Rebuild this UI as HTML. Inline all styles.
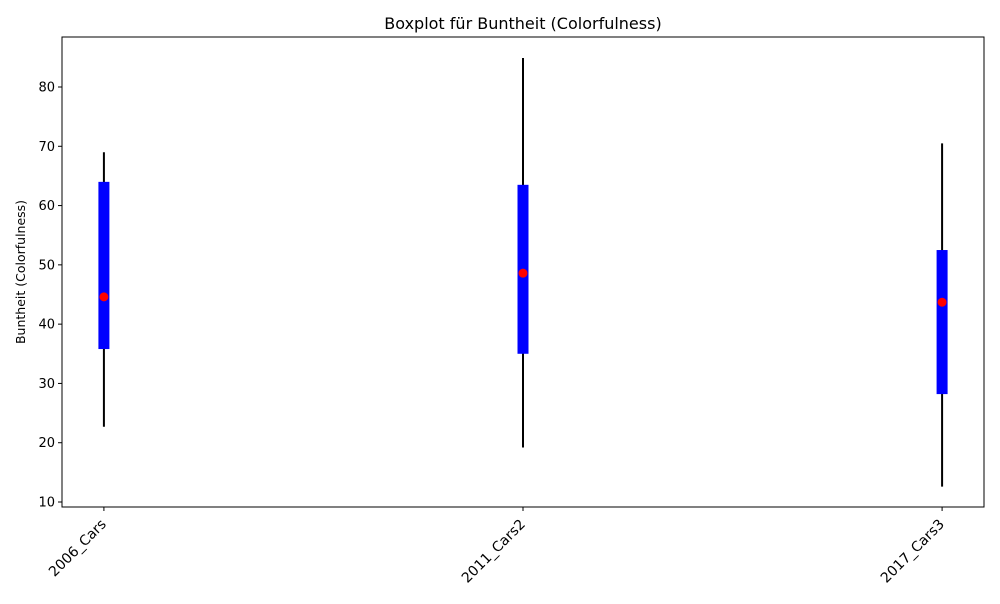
<!DOCTYPE html>
<html><head><meta charset="utf-8"><style>
body{margin:0;background:#fff;font-family:"DejaVu Sans","Liberation Sans",sans-serif}
svg text{font-family:"DejaVu Sans","Liberation Sans",sans-serif}
</style></head><body>
<svg id="chart" width="1000" height="600" xmlns="http://www.w3.org/2000/svg">
<rect width="1000" height="600" fill="#fff"/>
<text x="523" y="29" text-anchor="middle" font-size="16">Boxplot für Buntheit (Colorfulness)</text>
<text transform="translate(25,272) rotate(-90)" text-anchor="middle" font-size="12.5">Buntheit (Colorfulness)</text>
<g id="marks"></g>
<g id="axes"></g>
<rect x="62" y="37" width="922" height="470" fill="none" stroke="#000" stroke-width="1"/>
</svg>
<script>
const categories=["2006_Cars","2011_Cars2","2017_Cars3"];
const whiskerLow=[22.7,19.2,12.6];
const whiskerHigh=[69.0,84.9,70.5];
const q1=[35.8,35.0,28.2];
const q3=[64.0,63.5,52.5];
const means=[44.6,48.6,43.7];
const yTicks=[10,20,30,40,50,60,70,80];

const NS="http://www.w3.org/2000/svg";
const L=62,R=984,T=37,B=507;
const x=i=>L+(i+0.1)/2.2*(R-L);
const y=v=>502-(v-10)*(415/70);
function mk(tag,attrs,parent){const e=document.createElementNS(NS,tag);for(const k in attrs)e.setAttribute(k,attrs[k]);parent.appendChild(e);return e;}
const marks=document.getElementById('marks'),axes=document.getElementById('axes');
categories.forEach((c,i)=>{
  const cx=x(i);
  const w=mk('line',{x1:cx,x2:cx,y1:y(whiskerLow[i]),y2:y(whiskerHigh[i]),stroke:'#000','stroke-width':2},marks);
  
  
  const b=mk('rect',{x:cx-5.5,y:y(q3[i]),width:11,height:y(q1[i])-y(q3[i]),fill:'#0000ff'},marks);
  
  
  const m=mk('circle',{cx:cx,cy:y(means[i]),r:4.5,fill:'#ff0000'},marks);
  
  
  const t=mk('line',{x1:cx,x2:cx,y1:B,y2:B+4,stroke:'#000'},axes);
  
  
  const lb=mk('text',{x:0,y:0,'font-size':14,'text-anchor':'end',transform:`translate(${cx+3},${B+18}) rotate(-45)`},axes);
  lb.textContent=c;
  
  
});
yTicks.forEach(v=>{
  const t=mk('line',{x1:L-4,x2:L,y1:y(v),y2:y(v),stroke:'#000'},axes);
  
  
  const lb=mk('text',{x:L-7,y:y(v)+4.5,'font-size':13,'text-anchor':'end'},axes);
  lb.textContent=v;
  
  
});
</script>
</body></html>
